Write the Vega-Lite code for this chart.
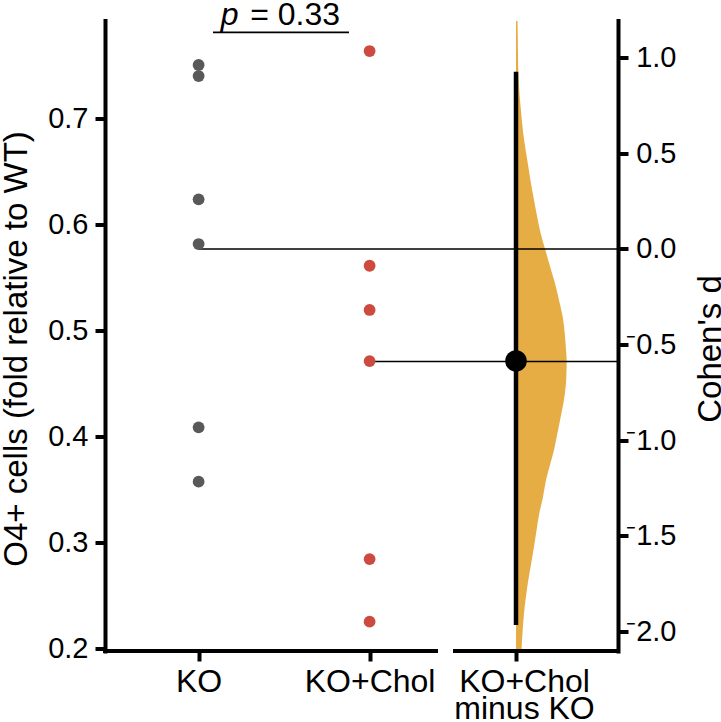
{
  "$schema": "https://vega.github.io/schema/vega-lite/v6.json",
  "width": 513,
  "height": 630.5,
  "autosize": {"type": "none"},
  "padding": {"left": 105, "top": 20.5, "right": 103, "bottom": 71},
  "background": "white",
  "config": {
    "view": {"stroke": null},
    "font": "Liberation Sans",
    "axis": {
      "grid": false,
      "domainColor": "black",
      "tickColor": "black",
      "labelColor": "black",
      "titleColor": "black",
      "labelFont": "Liberation Sans",
      "titleFont": "Liberation Sans",
      "titleFontWeight": "normal"
    }
  },
  "datasets": {
    "points": [
      {"group": "KO", "value": 0.7503},
      {"group": "KO", "value": 0.7399},
      {"group": "KO", "value": 0.6236},
      {"group": "KO", "value": 0.5814},
      {"group": "KO", "value": 0.4085},
      {"group": "KO", "value": 0.3572},
      {"group": "KO+Chol", "value": 0.7635},
      {"group": "KO+Chol", "value": 0.5609},
      {"group": "KO+Chol", "value": 0.5192},
      {"group": "KO+Chol", "value": 0.471},
      {"group": "KO+Chol", "value": 0.2842},
      {"group": "KO+Chol", "value": 0.2251}
    ],
    "density": [
      {"d": 1.19, "density": 0.03},
      {"d": 1.1, "density": 0.035},
      {"d": 1.0, "density": 0.04},
      {"d": 0.925, "density": 0.046},
      {"d": 0.8, "density": 0.072},
      {"d": 0.7, "density": 0.105},
      {"d": 0.6, "density": 0.144},
      {"d": 0.5, "density": 0.2},
      {"d": 0.43, "density": 0.243},
      {"d": 0.35, "density": 0.29},
      {"d": 0.255, "density": 0.355},
      {"d": 0.15, "density": 0.43},
      {"d": 0.08, "density": 0.487},
      {"d": 0.0, "density": 0.572},
      {"d": -0.1, "density": 0.68},
      {"d": -0.18, "density": 0.769},
      {"d": -0.27, "density": 0.85},
      {"d": -0.355, "density": 0.921},
      {"d": -0.45, "density": 0.965},
      {"d": -0.528, "density": 0.986},
      {"d": -0.586, "density": 1.0},
      {"d": -0.65, "density": 0.995},
      {"d": -0.703, "density": 0.986},
      {"d": -0.8, "density": 0.94},
      {"d": -0.877, "density": 0.882},
      {"d": -0.96, "density": 0.82},
      {"d": -1.051, "density": 0.75},
      {"d": -1.13, "density": 0.67},
      {"d": -1.21, "density": 0.59},
      {"d": -1.3, "density": 0.53},
      {"d": -1.381, "density": 0.46},
      {"d": -1.47, "density": 0.405},
      {"d": -1.556, "density": 0.355},
      {"d": -1.65, "density": 0.295},
      {"d": -1.73, "density": 0.243},
      {"d": -1.82, "density": 0.195},
      {"d": -1.904, "density": 0.158},
      {"d": -2.0, "density": 0.13},
      {"d": -2.078, "density": 0.112},
      {"d": -2.1, "density": 0.108}
    ],
    "effect": [{"d": -0.586, "lo": -1.965, "hi": 0.925}],
    "annotation": [{"sym": "p", "stat": "= 0.33"}]
  },
  "layer": [
    {
      "layer": [
        {
          "data": {"name": "density"},
          "mark": {"type": "area", "orient": "horizontal", "color": "#E7AD45", "interpolate": "monotone"},
          "encoding": {
            "y": {
              "field": "d", "type": "quantitative",
              "scale": {"domain": [-2.1008, 1.1922], "nice": false, "zero": false},
              "axis": {
                "orient": "right",
                "values": [-2, -1.5, -1, -0.5, 0, 0.5, 1],
                "labelExpr": "datum.value < 0 ? '⁻' + format(-datum.value, '.1f') : format(datum.value, '.1f')",
                "labelAlign": "right",
                "labelPadding": 48,
                "labelFontSize": 29,
                "tickSize": 10,
                "tickWidth": 4,
                "domainWidth": 4,
                "domainCap": "square",
                "title": "Cohen's d",
                "titleAngle": 270,
                "titleBaseline": "top",
                "titlePadding": 18,
                "titleFontSize": 33,
                "titleY": 328
              }
            },
            "x": {
              "field": "density", "type": "quantitative",
              "scale": {"domain": [-8.1065, 2.0118], "nice": false, "zero": false},
              "axis": {
                "orient": "bottom",
                "domain": false,
                "title": null,
                "values": [0],
                "labelExpr": "['KO+Chol', 'minus KO']",
                "labelFontSize": 32,
                "labelLineHeight": 27,
                "labelPadding": 5,
                "labelOffset": 8,
                "labelFlush": false,
                "tickSize": 10,
                "tickWidth": 4
              }
            },
            "x2": {"datum": 0}
          }
        },
        {
          "data": {"name": "effect"},
          "mark": {"type": "rule", "color": "black", "strokeWidth": 4.5},
          "encoding": {
            "x": {"datum": 0, "type": "quantitative"},
            "y": {"field": "lo", "type": "quantitative", "title": "Cohen's d"},
            "y2": {"field": "hi"}
          }
        },
        {
          "data": {"name": "effect"},
          "mark": {"type": "point", "filled": true, "color": "black", "size": 464, "opacity": 1},
          "encoding": {
            "x": {"datum": 0, "type": "quantitative"},
            "y": {"field": "d", "type": "quantitative", "title": "Cohen's d"}
          }
        },
        {
          "data": {"values": [{}]},
          "mark": {"type": "rule", "color": "black", "strokeWidth": 4, "strokeCap": "square"},
          "encoding": {
            "x": {"datum": -8.1065, "type": "quantitative"},
            "x2": {"datum": -1.5779},
            "y": {"value": "height"}
          }
        },
        {
          "data": {"values": [{}]},
          "mark": {"type": "rule", "color": "black", "strokeWidth": 4, "strokeCap": "square"},
          "encoding": {
            "x": {"datum": -1.2031, "type": "quantitative"},
            "x2": {"datum": 2.0118},
            "y": {"value": "height"}
          }
        },
        {
          "data": {"values": [{}]},
          "mark": {"type": "rule", "color": "black", "strokeWidth": 1.8},
          "encoding": {
            "x": {"datum": -5.9763, "type": "quantitative"},
            "x2": {"datum": -3.2939},
            "y": {"datum": 1.1307, "type": "quantitative"}
          }
        },
        {
          "data": {"name": "annotation"},
          "mark": {"type": "text", "fontSize": 32, "fontStyle": "italic", "align": "left", "baseline": "alphabetic", "color": "black"},
          "encoding": {
            "x": {"datum": -5.8244, "type": "quantitative"},
            "y": {"datum": 1.1689, "type": "quantitative"},
            "text": {"field": "sym"}
          }
        },
        {
          "data": {"name": "annotation"},
          "mark": {"type": "text", "fontSize": 32, "align": "right", "baseline": "alphabetic", "color": "black"},
          "encoding": {
            "x": {"datum": -3.4714, "type": "quantitative"},
            "y": {"datum": 1.1689, "type": "quantitative"},
            "text": {"field": "stat"}
          }
        }
      ]
    },
    {
      "layer": [
        {
          "data": {"name": "points"},
          "transform": [
            {"aggregate": [{"op": "mean", "field": "value", "as": "mean"}], "groupby": ["group"]}
          ],
          "mark": {"type": "rule", "color": "black", "strokeWidth": 1.5},
          "encoding": {
            "x": {
              "field": "group", "type": "nominal",
              "scale": {"type": "point", "domain": ["KO", "KO+Chol"], "padding": 1.28125, "align": 0.2737},
              "axis": {
                "orient": "bottom", "domain": false, "title": null, "labelAngle": 0,
                "labelFontSize": 32, "labelPadding": 5, "tickSize": 10, "tickWidth": 4
              }
            },
            "x2": {"value": "width"},
            "y": {
              "field": "mean", "type": "quantitative",
              "scale": {"domain": [0.19745, 0.7923], "nice": false, "zero": false},
              "axis": {
                "orient": "left",
                "values": [0.2, 0.3, 0.4, 0.5, 0.6, 0.7],
                "format": ".1f",
                "title": "O4+ cells (fold relative to WT)",
                "titleFontSize": 33,
                "titlePadding": 14,
                "titleY": 328,
                "labelFontSize": 29,
                "labelPadding": 7,
                "tickSize": 10,
                "tickWidth": 4,
                "domainWidth": 4,
                "domainCap": "square"
              }
            }
          }
        },
        {
          "data": {"name": "points"},
          "mark": {"type": "circle", "size": 139, "opacity": 1},
          "encoding": {
            "x": {"field": "group", "type": "nominal", "title": null},
            "y": {"field": "value", "type": "quantitative", "title": "O4+ cells (fold relative to WT)"},
            "color": {
              "field": "group", "type": "nominal",
              "scale": {"domain": ["KO", "KO+Chol"], "range": ["#595959", "#CD4A3F"]},
              "legend": null
            }
          }
        }
      ]
    }
  ],
  "resolve": {
    "scale": {"x": "independent", "y": "independent"},
    "axis": {"x": "independent", "y": "independent"}
  }
}
